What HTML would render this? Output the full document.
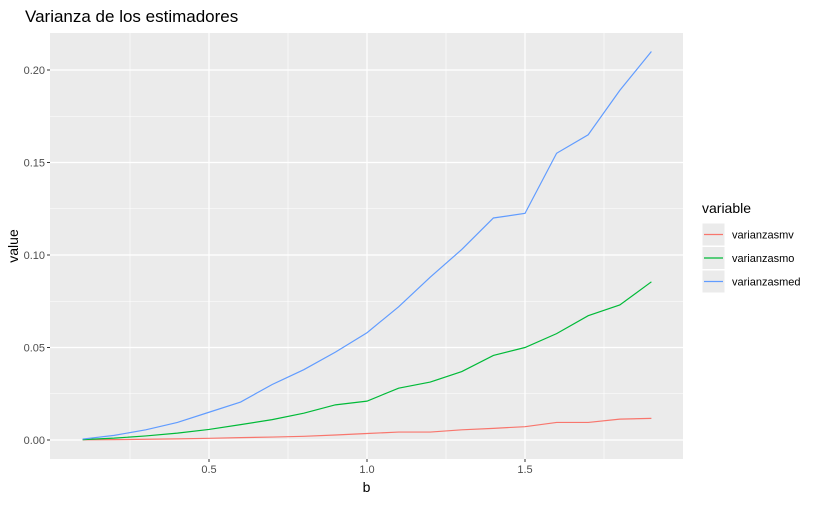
<!DOCTYPE html>
<html><head><meta charset="utf-8"><style>
body{margin:0;background:#fff;font-family:"Liberation Sans",sans-serif}
</style></head><body>
<svg id="c" width="821" height="502" xmlns="http://www.w3.org/2000/svg"></svg>
<script>
const xs=[0.1,0.2,0.3,0.4,0.5,0.6,0.7,0.8,0.9,1.0,1.1,1.2,1.3,1.4,1.5,1.6,1.7,1.8,1.9];
const mv=[0.0001,0.0002,0.0004,0.0006,0.0009,0.0013,0.0016,0.002,0.0027,0.0035,0.0043,0.0043,0.0055,0.0063,0.0072,0.0095,0.0095,0.0113,0.0117];
const mo=[0.0002,0.001,0.0022,0.0037,0.0057,0.0083,0.011,0.0145,0.019,0.021,0.028,0.0313,0.037,0.0457,0.05,0.0575,0.0672,0.073,0.0855];
const med=[0.0005,0.0025,0.0055,0.0095,0.015,0.0205,0.03,0.038,0.0475,0.058,0.072,0.088,0.103,0.12,0.1225,0.155,0.165,0.189,0.21];
const xticks=[0.5,1.0,1.5];
const xtickLabels=["0.5","1.0","1.5"];
const yticks=[0,0.05,0.1,0.15,0.2];
const ytickLabels=["0.00","0.05","0.10","0.15","0.20"];
const seriesNames=["varianzasmv","varianzasmo","varianzasmed"];
const colors=["#F8766D","#00BA38","#619CFF"];
const L=50,R=683,T=33,B=459;
const X=v=>367+(v-1)*316, Y=v=>440-v*1850;
const s=document.getElementById('c');
function el(t,a,txt){const e=document.createElementNS('http://www.w3.org/2000/svg',t);for(const k in a)e.setAttribute(k,a[k]);if(txt!=null)e.textContent=txt;s.appendChild(e);return e;}
let e=el('rect',{x:L,y:T,width:R-L,height:B-T,fill:'#EBEBEB'});


for(let i=0;i<xticks.length+1;i++){const v=0.25+i*0.5;e=el('line',{x1:X(v),x2:X(v),y1:T,y2:B,stroke:'#fff','stroke-width':0.6});}
for(let i=0;i<yticks.length;i++){const v=yticks[i]+0.025;e=el('line',{x1:L,x2:R,y1:Y(v),y2:Y(v),stroke:'#fff','stroke-width':0.6});}
xticks.forEach((v,i)=>{e=el('line',{x1:X(v),x2:X(v),y1:T,y2:B,stroke:'#fff','stroke-width':1.2});
e=el('line',{x1:X(v),x2:X(v),y1:B,y2:B+3,stroke:'#333'});
e=el('text',{x:X(v),y:B+14,'text-anchor':'middle','font-size':11,fill:'#4D4D4D'},xtickLabels[i]);});
yticks.forEach((v,i)=>{e=el('line',{x1:L,x2:R,y1:Y(v),y2:Y(v),stroke:'#fff','stroke-width':1.2});
e=el('line',{x1:L-3,x2:L,y1:Y(v),y2:Y(v),stroke:'#333'});
e=el('text',{x:L-5,y:Y(v)+4,'text-anchor':'end','font-size':11,fill:'#4D4D4D'},ytickLabels[i]);});
[mv,mo,med].forEach((d,k)=>{e=el('polyline',{points:d.map((v,i)=>X(xs[i])+','+Y(v)).join(' '),fill:'none',stroke:colors[k],'stroke-width':1.2});});
e=el('text',{x:25,y:22,'font-size':17,fill:'#000'},'Varianza de los estimadores');
e=el('text',{x:(L+R)/2,y:492,'text-anchor':'middle','font-size':14},'b');
e=el('text',{x:18,y:(T+B)/2,'text-anchor':'middle','font-size':14,transform:`rotate(-90 18 ${(T+B)/2})`},'value');
e=el('text',{x:702,y:213,'font-size':14},'variable');
seriesNames.forEach((n,k)=>{const y=223+k*23.5;
e=el('rect',{x:702,y:y,width:23,height:23,fill:'#EBEBEB',stroke:'#fff'});
e=el('line',{x1:704,x2:723,y1:y+11.5,y2:y+11.5,stroke:colors[k],'stroke-width':1.2});
e=el('text',{x:732,y:y+15.5,'font-size':11},n);});
</script>
</body></html>
